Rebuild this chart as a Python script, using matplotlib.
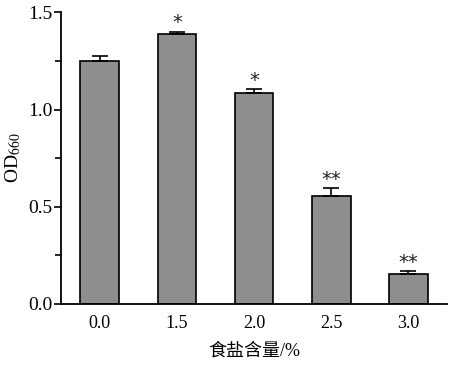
import matplotlib
matplotlib.use('Agg')
import matplotlib.pyplot as plt
from matplotlib.ticker import MultipleLocator

plt.rcParams['font.family'] = ['Liberation Serif', 'Noto Sans CJK SC']
plt.rcParams['mathtext.fontset'] = 'stix'

# salt content categories and OD660 readings
salt = ['0.0', '1.5', '2.0', '2.5', '3.0']
od660 = [1.25, 1.39, 1.085, 0.553, 0.153]
err = [0.025, 0.012, 0.02, 0.045, 0.017]
marks = ['', '*', '*', '**', '**']

fig = plt.figure(figsize=(4.7, 3.67), dpi=100)
ax = fig.add_axes([0.13, 0.172, 0.821, 0.794])

x = range(len(salt))
ax.bar(x, od660, width=0.5, color='#8e8e90', edgecolor='black', linewidth=1.2, zorder=2)
ax.errorbar(x, od660, yerr=[[0] * len(err), err], fmt='none', ecolor='black',
            elinewidth=1.2, capsize=6, capthick=1.2, zorder=3)
for i in x:
    if marks[i]:
        ax.text(i, od660[i] + err[i] - 0.005, marks[i], ha='center', va='bottom',
                fontsize=14, family='DejaVu Sans', color='#222222')

ax.set_xlim(-0.5, 4.5)
ax.set_ylim(0, 1.5)
ax.set_xticks(list(x))
ax.set_xticklabels(salt)
ax.yaxis.set_major_locator(MultipleLocator(0.5))
ax.yaxis.set_minor_locator(MultipleLocator(0.25))
ax.yaxis.set_major_formatter(plt.FormatStrFormatter('%.1f'))
ax.tick_params(axis='x', length=0, labelsize=13, pad=8)
ax.tick_params(axis='y', which='major', direction='out', length=5, width=1.2, labelsize=14, pad=1)
ax.tick_params(axis='y', which='minor', direction='out', length=4, width=1.2)
for s in ['top', 'right']:
    ax.spines[s].set_visible(False)
for s in ['left', 'bottom']:
    ax.spines[s].set_linewidth(1.3)

ax.set_ylabel('OD$_{\\mathit{660}}$', fontsize=14, labelpad=4)
ax.set_xlabel('食盐含量/%', fontsize=13, labelpad=8)

fig.savefig('out.png', dpi=100)
